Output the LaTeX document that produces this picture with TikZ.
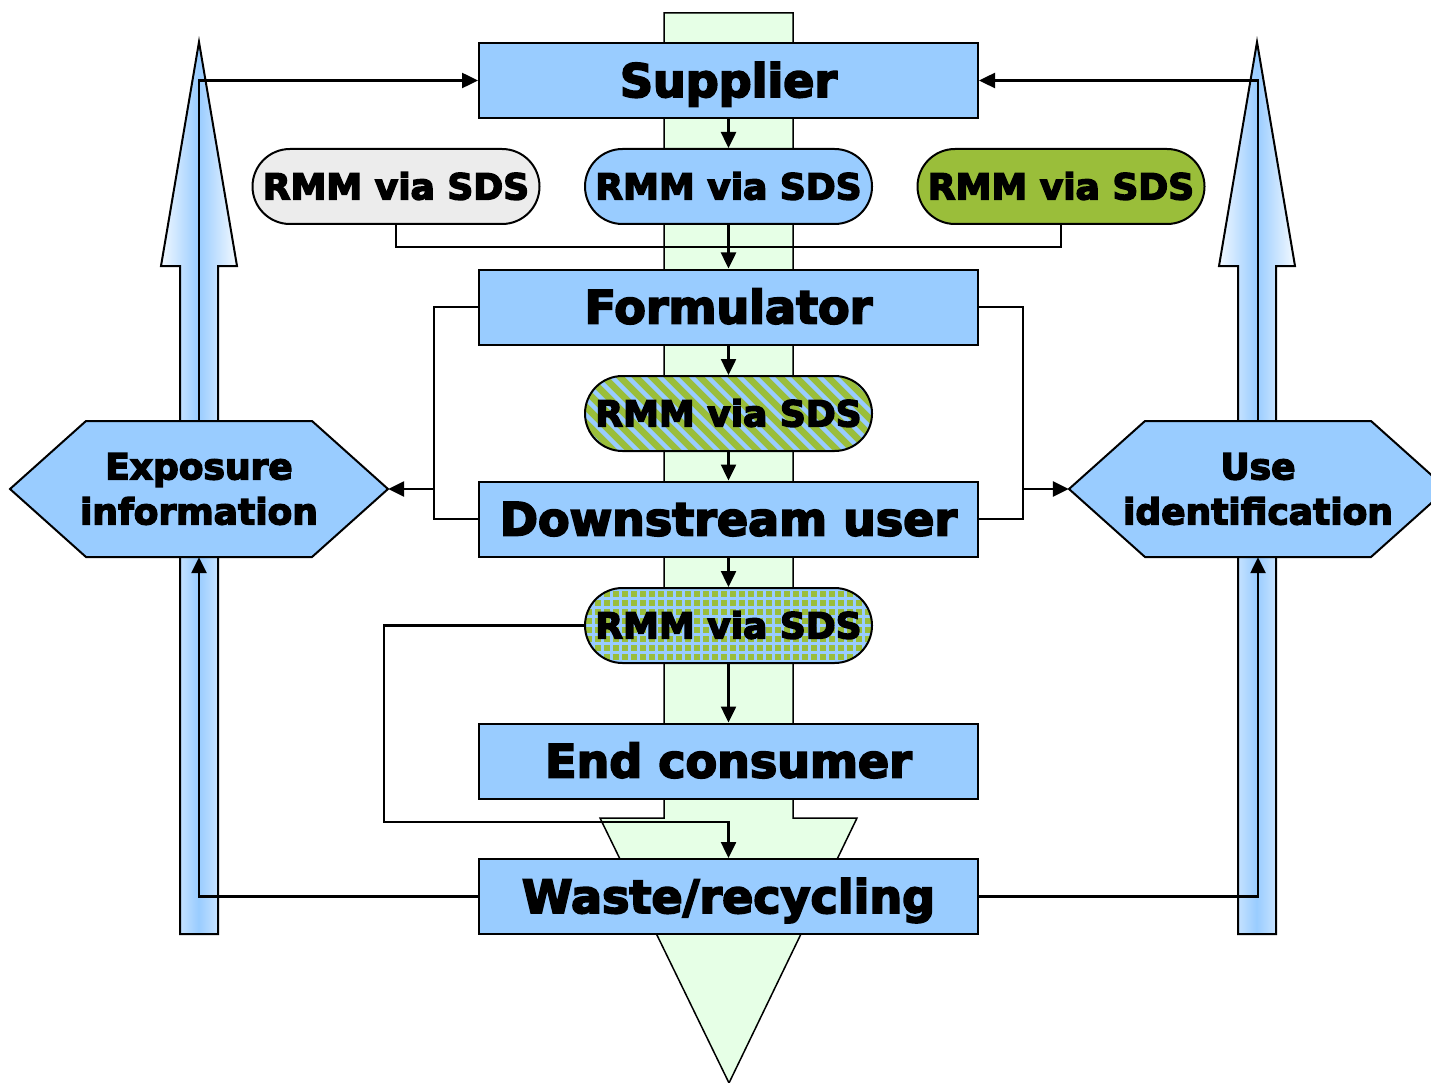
\documentclass[tikz,border=0pt]{standalone}
\usepackage{fontspec}
\setmainfont{DejaVu Sans}[BoldFeatures={FakeBold=4}]
\usetikzlibrary{arrows.meta,shapes.misc,calc}
\definecolor{boxblue}{RGB}{153,204,255}
\definecolor{flowgreen}{RGB}{230,255,230}
\definecolor{rmmgray}{RGB}{236,236,236}
\definecolor{rmmgreen}{RGB}{154,190,58}
\begin{document}
\begin{tikzpicture}[x=1pt,y=-1pt,
  box/.style={draw=black, line width=2pt, fill=boxblue, minimum width=499pt, minimum height=75pt, inner sep=0pt, text height=33pt, text depth=0pt, font=\fontsize{46}{54}\selectfont\bfseries},
  rmm/.style={rounded rectangle, draw=black, line width=2pt, minimum width=287pt, minimum height=75pt, inner sep=0pt, text height=26pt, text depth=0pt, font=\fontsize{36}{43}\selectfont\bfseries},
  hexlabel/.style={minimum width=378pt, minimum height=136pt, inner sep=0pt, align=center, font=\fontsize{36}{45}\selectfont\bfseries},
  hexshape/.style={draw=black, line width=2pt, fill=boxblue, line join=miter},
  conn/.style={line width=2.5pt, black},
  arr/.style={conn, -{Triangle[length=16pt,width=15pt]}},
  stripes/.style={path picture={
    \fill[rmmgreen] (path picture bounding box.north west) rectangle (path picture bounding box.south east);
    \foreach \s in {-256,-240,...,256}
      \draw[boxblue, line width=4.5pt] ($(path picture bounding box.center)+(\s-60,-60)$) -- ++(120,120);
  }},
  checks/.style={path picture={
    \fill[rmmgreen] (path picture bounding box.north west) rectangle (path picture bounding box.south east);
    \foreach \s in {-162,-153,...,162}{
      \draw[boxblue, line width=2.5pt] ($(path picture bounding box.center)+(\s,-50)$) -- ++(0,100);
      \draw[boxblue, line width=2.5pt] ($(path picture bounding box.center)+(-160,\s)$) -- ++(320,0);
    }
  }},
]
\useasboundingbox (0,0) rectangle (1431,1083);
\clip (0,0) rectangle (1431,1083);

% central green flow arrow
\draw[line width=1.5pt, fill=flowgreen, line join=miter] (664,13) -- (793,13) -- (793,818) -- (857,818) -- (729,1083) -- (600,818) -- (664,818) -- cycle;

% side blue arrows with horizontal gradient
\foreach \cx in {199,1257}{
  \begin{scope}
    \clip (\cx-19,934) -- (\cx-19,266) -- (\cx-38,266) -- (\cx,42) -- (\cx+38,266) -- (\cx+19,266) -- (\cx+19,934) -- cycle;
    \foreach \i [evaluate=\i as \p using {100-abs(\i+0.5-38)/38*88}] in {0,...,75}
      \fill[boxblue!\p!white] (\cx-38+\i,40) rectangle (\cx-36.6+\i,936);
  \end{scope}
  \draw[line width=2pt, line join=miter] (\cx-19,934) -- (\cx-19,266) -- (\cx-38,266) -- (\cx,42) -- (\cx+38,266) -- (\cx+19,266) -- (\cx+19,934) -- cycle;
}

% hexagons
\draw[hexshape] (10,489) -- (86,421) -- (312,421) -- (388,489) -- (312,557) -- (86,557) -- cycle;
\node[hexlabel] (expo) at (199,489) {Exposure\\information};
\draw[hexshape] (1069,489) -- (1145,421) -- (1371,421) -- (1447,489) -- (1371,557) -- (1145,557) -- cycle;
\node[hexlabel] (use) at (1258,489) {Use\\identification};

% boxes
\node[box] (sup) at (728.5,80.5) {Supplier};
\node[box] (form) at (728.5,307) {Formulator};
\node[box] (down) at (728.5,519) {Downstream user};
\node[box] (endc) at (728.5,761) {End consumer};
\node[box] (waste) at (728.5,896.5) {Waste/recycling};

% RMM pills
\node[rmm, fill=rmmgray] (r1) at (396,186.5) {RMM via SDS};
\node[rmm, fill=boxblue] (r2) at (728.5,186.5) {RMM via SDS};
\node[rmm, fill=rmmgreen] (r3) at (1061,186.5) {RMM via SDS};
\node[rmm, stripes] (r4) at (728.5,413.5) {RMM via SDS};
\node[rmm, checks] (r5) at (728.5,625.5) {RMM via SDS};

% connectors
\draw[arr] (sup.south) -- (r2.north);
\draw[conn] (r1.south) -- ++(0,22) -| (r3.south);
\draw[arr] (r2.south) -- (form.north);
\draw[arr] (form.south) -- (r4.north);
\draw[arr] (r4.south) -- (down.north);
\draw[arr] (down.south) -- (r5.north);
\draw[arr] (r5.south) -- (endc.north);

\coordinate (lj) at (434,489);
\coordinate (rj) at (1023,489);
\draw[conn] (form.west) -| (lj) |- (down.west);
\draw[arr] (lj) -- (expo.east);
\draw[conn] (form.east) -| (rj) |- (down.east);
\draw[arr] (rj) -- (use.west);

\coordinate (lp) at (384,822);
\draw[arr] (r5.west) -| (lp) -| (waste.north);

\draw[arr] (waste.west) -| (expo.south);
\draw[arr] (expo.north) |- (sup.west);
\draw[arr] (waste.east) -| (use.south);
\draw[arr] (use.north) |- (sup.east);
\end{tikzpicture}
\end{document}
